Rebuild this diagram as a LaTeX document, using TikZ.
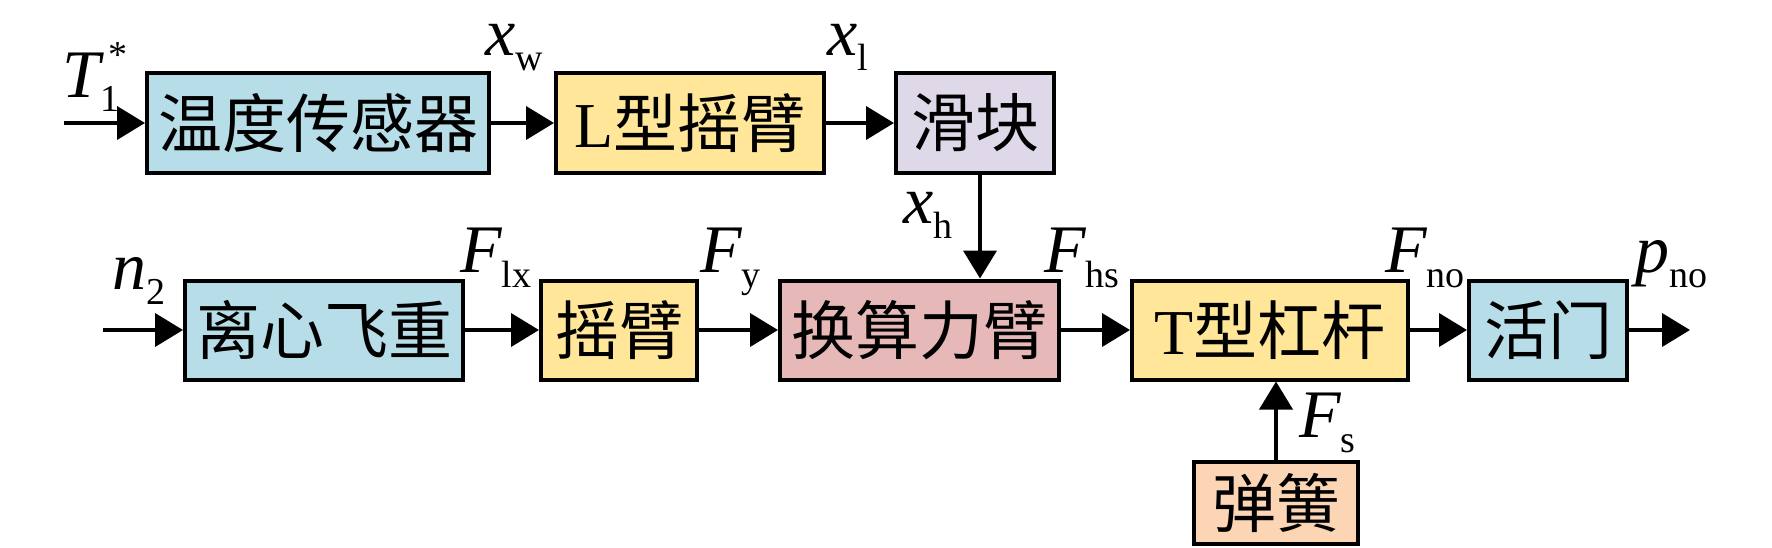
\documentclass[tikz,border=0pt]{standalone}
\usepackage{fontspec}
\setmainfont{Liberation Serif}
\newfontfamily\cjk{Noto Sans CJK SC}
\usetikzlibrary{arrows.meta}
\definecolor{cblue}{RGB}{183,222,232}
\definecolor{cyel}{RGB}{255,230,153}
\definecolor{cpur}{RGB}{222,216,232}
\definecolor{cpink}{RGB}{230,185,184}
\definecolor{cpeach}{RGB}{252,213,181}
\newcommand{\mainsz}{\fontsize{34}{34}\selectfont}
\newcommand{\subsz}{\fontsize{19}{19}\selectfont}
\newcommand{\lab}[2]{{\mainsz\itshape #1}\raisebox{-7.5pt}{\subsz #2}}
\begin{document}
\begin{tikzpicture}[x=0.5pt,y=-0.5pt,
  blk/.style={draw=black, line width=2pt, inner sep=0pt, minimum height=50pt,
    font=\fontsize{32}{32}\selectfont},
  arr/.style={line width=2pt, -{Triangle[length=14pt,width=16.5pt]}},
  lbl/.style={anchor=base west, inner sep=0pt}]
\useasboundingbox (0,0) rectangle (1772,547);
% top row
\node[blk, fill=cblue, minimum width=171pt] (A) at (318,123) {\cjk 温度传感器};
\node[blk, fill=cyel,  minimum width=134pt] (B) at (690,123) {L{\cjk 型摇臂}};
\node[blk, fill=cpur,  minimum width=79pt]  (C) at (975,123) {\cjk 滑块};
% bottom row
\node[blk, fill=cblue, minimum width=139pt, minimum height=49.5pt] (D) at (324,330) {\cjk 离心飞重};
\node[blk, fill=cyel,  minimum width=78pt,  minimum height=49.5pt] (E) at (619,330) {\cjk 摇臂};
\node[blk, fill=cpink, minimum width=139.5pt, minimum height=49.5pt] (F) at (919.5,330) {\cjk 换算力臂};
\node[blk, fill=cyel,  minimum width=138pt, minimum height=49.5pt] (G) at (1270,330) {T{\cjk 型杠杆}};
\node[blk, fill=cblue, minimum width=79pt,  minimum height=49.5pt] (H) at (1548,330) {\cjk 活门};
\node[blk, fill=cpeach, minimum width=82pt, minimum height=41pt] (I) at (1276,503) {\cjk 弹簧};
% free ends
\coordinate (in1) at (64,123);
\coordinate (in2) at (103,330);
\coordinate (out) at (1690,330);
% connectors
\draw[arr] (in1) -- (A.west);
\draw[arr] (A.east) -- (B.west);
\draw[arr] (B.east) -- (C.west);
\draw[arr] ([xshift=2.5pt]C.south) -- ([xshift=2.5pt]C.south |- F.north);
\draw[arr] (in2) -- (D.west);
\draw[arr] (D.east) -- (E.west);
\draw[arr] (E.east) -- (F.west);
\draw[arr] (F.east) -- (G.west);
\draw[arr] (G.east) -- (H.west);
\draw[arr] (H.east) -- (out);
\draw[arr] (I.north) -- (I.north |- G.south);
% labels
\node[lbl] (lT) at (62,97) {{\mainsz\itshape T}\raisebox{-7pt}{\rlap{\subsz 1}}\hspace{4pt}\raisebox{15pt}{\subsz *}};
\node[lbl] (lxw) at (485,55) {\lab{x}{w}};
\node[lbl] (lxl) at (827,55) {\lab{x}{l}};
\node[lbl] (lxh) at (903,223) {\lab{x}{h}};
\node[lbl] (ln2) at (112,289) {\lab{n}{2}};
\node[lbl] (lFlx) at (460,272) {\lab{F}{lx}};
\node[lbl] (lFy) at (700,272) {\lab{F}{y}};
\node[lbl] (lFhs) at (1044,272) {\lab{F}{hs}};
\node[lbl] (lFno) at (1385,272) {\lab{F}{no}};
\node[lbl] (lpno) at (1635,272) {\lab{p}{no}};
\node[lbl] (lFs) at (1299,437) {\lab{F}{s}};
\end{tikzpicture}
\end{document}
